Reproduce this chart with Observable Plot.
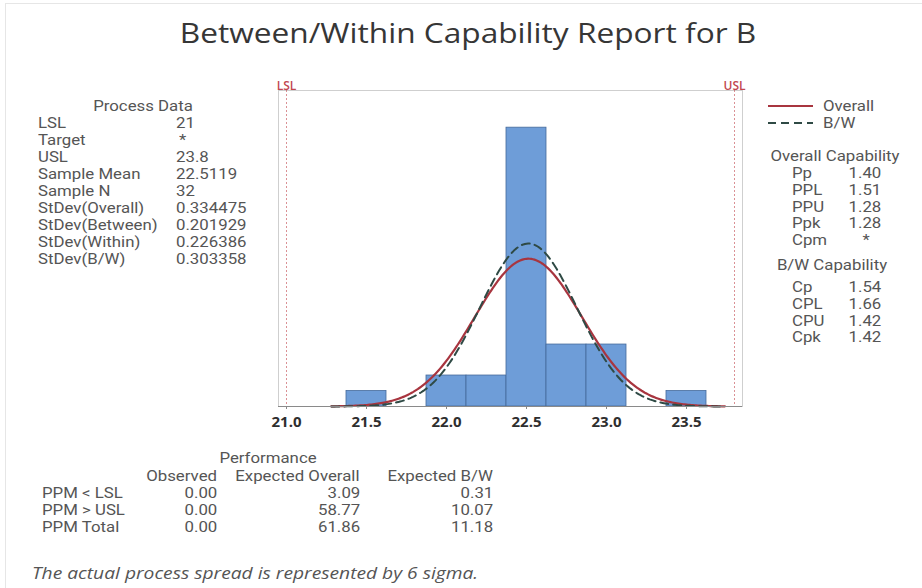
<!DOCTYPE html>
<html>
<head>
<meta charset="utf-8">
<script src="https://cdn.jsdelivr.net/npm/d3@7"></script>
<script src="https://cdn.jsdelivr.net/npm/@observablehq/plot@0.6"></script>
<style>
  html, body { margin: 0; padding: 0; background: #fff; }
  #page { position: relative; width: 922px; height: 588px; overflow: hidden; font-family: Roboto, sans-serif; color: #555; }
  #page .t { position: absolute; white-space: nowrap; }
  #edge { position: absolute; left: 5px; top: 3px; right: 0; bottom: 0; border-top: 1px solid #e6e6e6; border-left: 1px solid #e6e6e6; }
  #chart { position: absolute; left: 0; top: 60px; }
</style>
</head>
<body>
<div id="page"><div id="edge"></div><div id="chart"></div></div>
<script>
// ---- Histogram of B (bin width 0.25) ----
const binStarts = [21.375, 21.625, 21.875, 22.125, 22.375, 22.625, 22.875, 23.125, 23.375];
const binCounts = [1, 0, 2, 2, 18, 4, 4, 0, 1];
const binWidth = 0.25;

// ---- Process statistics ----
const LSL = 21;
const USL = 23.8;
const sampleMean = 22.5119;
const sampleN = 32;
const stdevOverall = 0.334475;
const stdevBW = 0.303358;
const curveFrom = 21.28;
const curveTo = 23.74;

const specValues = [LSL, USL];
const specNames = ["LSL", "USL"];
const xTicks = [21.0, 21.5, 22.0, 22.5, 23.0, 23.5];

// ---- Text tables ----
const processLabels = ["LSL", "Target", "USL", "Sample Mean", "Sample N", "StDev(Overall)", "StDev(Between)", "StDev(Within)", "StDev(B/W)"];
const processValues = ["21", "*", "23.8", "22.5119", "32", "0.334475", "0.201929", "0.226386", "0.303358"];

const overallCapLabels = ["Pp", "PPL", "PPU", "Ppk", "Cpm"];
const overallCapValues = ["1.40", "1.51", "1.28", "1.28", "*"];
const bwCapLabels = ["Cp", "CPL", "CPU", "Cpk"];
const bwCapValues = ["1.54", "1.66", "1.42", "1.42"];

const perfColumns = ["Observed", "Expected Overall", "Expected B/W"];
const perfRows = ["PPM < LSL", "PPM > USL", "PPM Total"];
const perfObserved = ["0.00", "0.00", "0.00"];
const perfExpOverall = ["3.09", "58.77", "61.86"];
const perfExpBW = ["0.31", "10.07", "11.18"];

const titleText = "Between/Within Capability Report for B";
const captionText = "The actual process spread is represented by 6 sigma.";

// ---- Colours ----
const barFill = "#6e9dd8";
const barStroke = "#44699b";
const overallColor = "#a8353f";
const bwColor = "#2f4a45";
const specColor = "#c2474f";

// ---- Derived data for marks ----
const bins = binStarts.map((s, i) => ({x1: s, x2: s + binWidth, count: binCounts[i]})).filter(d => d.count > 0);
const scale = sampleN * binWidth;
const normal = (x, m, s) => Math.exp(-0.5 * ((x - m) / s) ** 2) / (s * Math.sqrt(2 * Math.PI));
const xs = d3.range(curveFrom, curveTo + 1e-9, 0.01);
const overallCurve = xs.map(x => ({x, y: scale * normal(x, sampleMean, stdevOverall)}));
const bwCurve = xs.map(x => ({x, y: scale * normal(x, sampleMean, stdevBW)}));
const specs = specValues.map((v, i) => ({x: v, name: specNames[i]}));

const chart = Plot.plot({
  width: 922,
  height: 390,
  marginLeft: 278,
  marginRight: 180,
  marginTop: 30,
  marginBottom: 44,
  x: {domain: [20.95, 23.85]},
  y: {domain: [0, 20.4], axis: null},
  style: {fontFamily: "Open Sans, sans-serif", background: "transparent", overflow: "visible"},
  marks: [
    Plot.frame({stroke: "#cfcfcf"}),
    Plot.ruleX(specs, {x: "x", stroke: specColor, strokeOpacity: 0.6, strokeDasharray: "2,2"}),
    Plot.rectY(bins, {x1: "x1", x2: "x2", y: "count", fill: barFill, stroke: barStroke, strokeWidth: 0.8}),
    Plot.line(overallCurve, {x: "x", y: "y", stroke: overallColor, strokeWidth: 2.2}),
    Plot.line(bwCurve, {x: "x", y: "y", stroke: bwColor, strokeWidth: 2, strokeDasharray: "8,5"}),
    Plot.ruleY([0], {stroke: "#8a8a8a"}),
    Plot.text(specs, {x: "x", text: "name", frameAnchor: "top", lineAnchor: "bottom", dy: -1, fill: specColor, fontSize: 12, fontWeight: 600}),
    Plot.axisX(xTicks, {tickFormat: d3.format(".1f"), tickSize: 3, tickPadding: 7, fontSize: 15, fontWeight: 700, fill: "#2e2e2e", stroke: "#888"})
  ]
});
document.getElementById("chart").appendChild(chart);

// ---- Text overlays (text is set slightly wide, as in the report layout) ----
const page = document.getElementById("page");
function put(text, x, y, opts = {}) {
  const el = document.createElement("div");
  el.className = "t";
  el.textContent = text;
  const size = opts.size || 14;
  const widen = opts.widen || 1.2;
  const lh = Math.round(size * 1.12);
  el.style.fontSize = size + "px";
  el.style.lineHeight = lh + "px";
  el.style.height = lh + "px";
  el.style.top = (y - lh / 2) + "px";
  if (opts.font) el.style.fontFamily = opts.font;
  if (opts.color) el.style.color = opts.color;
  if (opts.italic) el.style.fontStyle = "italic";
  if (opts.weight) el.style.fontWeight = opts.weight;
  if (opts.anchor === "middle") {
    el.style.left = x + "px";
    el.style.transform = `translateX(-50%) scaleX(${widen})`;
  } else if (opts.anchor === "end") {
    el.style.right = (922 - x) + "px";
    el.style.transformOrigin = "100% 50%";
    el.style.transform = `scaleX(${widen})`;
  } else {
    el.style.left = x + "px";
    el.style.transformOrigin = "0 50%";
    el.style.transform = `scaleX(${widen})`;
  }
  page.appendChild(el);
  return el;
}

// Title
put(titleText, 468, 32, {anchor: "middle", size: 28, color: "#363636", font: "Open Sans, sans-serif", widen: 1.13});

// Process data block
put("Process Data", 143, 106, {anchor: "middle"});
processLabels.forEach((lab, i) => {
  const y = 123 + i * 17;
  put(lab, 38, y);
  put(processValues[i], processValues[i] === "*" ? 179 : 176, y);
});

// Legend
function legendLine(y, color, dash) {
  const svg = document.createElementNS("http://www.w3.org/2000/svg", "svg");
  svg.setAttribute("width", 50); svg.setAttribute("height", 6);
  svg.style.position = "absolute"; svg.style.left = "766px"; svg.style.top = (y - 3) + "px";
  const ln = document.createElementNS("http://www.w3.org/2000/svg", "line");
  ln.setAttribute("x1", 2); ln.setAttribute("x2", 47); ln.setAttribute("y1", 3); ln.setAttribute("y2", 3);
  ln.setAttribute("stroke", color); ln.setAttribute("stroke-width", 2.2);
  if (dash) ln.setAttribute("stroke-dasharray", dash);
  svg.appendChild(ln);
  page.appendChild(svg);
}
legendLine(106, overallColor, null);
put("Overall", 823, 106);
legendLine(123, bwColor, "8,5");
put("B/W", 823, 123);

// Capability blocks
put("Overall Capability", 835, 156, {anchor: "middle"});
overallCapLabels.forEach((lab, i) => {
  const y = 173 + i * 16.8;
  put(lab, 792, y);
  if (overallCapValues[i] === "*") put("*", 866, y, {anchor: "middle"});
  else put(overallCapValues[i], 881, y, {anchor: "end"});
});
put("B/W Capability", 832, 265, {anchor: "middle"});
bwCapLabels.forEach((lab, i) => {
  const y = 287 + i * 16.8;
  put(lab, 792, y);
  put(bwCapValues[i], 881, y, {anchor: "end"});
});

// Performance table
put("Performance", 268, 458, {anchor: "middle"});
const colRight = [217, 360, 493];
perfColumns.forEach((c, j) => put(c, colRight[j], 476, {anchor: "end"}));
perfRows.forEach((r, i) => {
  const y = 493 + i * 17;
  put(r, 42, y);
  put(perfObserved[i], colRight[0], y, {anchor: "end"});
  put(perfExpOverall[i], colRight[1], y, {anchor: "end"});
  put(perfExpBW[i], colRight[2], y, {anchor: "end"});
});

// Caption
put(captionText, 32, 572, {italic: true, size: 17, color: "#555", font: "Open Sans, sans-serif", widen: 1.13});
</script>
</body>
</html>
